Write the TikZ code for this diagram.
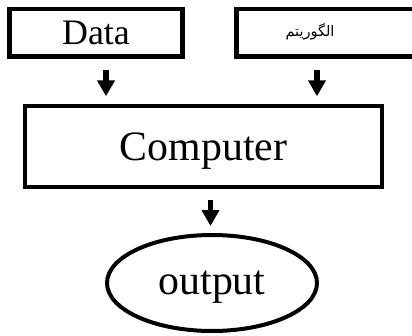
\documentclass[tikz,border=0pt]{standalone}
\usepackage{fontspec}
\setmainfont{Liberation Serif}
\newfontfamily\arabicfont[Script=Arabic]{DejaVu Sans}
\TeXXeTstate=1
\usetikzlibrary{arrows.meta,shapes.geometric}

\tikzset{
  topbox/.style={draw, line width=4.5bp, rectangle, inner sep=0pt, text depth=0pt},
  mainbox/.style={draw, line width=4bp, rectangle, inner sep=0pt, text depth=0pt},
  endbox/.style={draw, line width=4bp, ellipse, inner sep=0pt, text depth=0pt},
  flow/.style={line width=5.5bp, -{Triangle[length=16bp,width=17bp]}},
}

\begin{document}
\begin{tikzpicture}[x=1bp, y=-1bp]
  \useasboundingbox (0,0) rectangle (412,336);
  \clip (0,0) rectangle (412,336);

  % input boxes
  \node[topbox, minimum width=173bp, minimum height=47.5bp,
        font=\fontsize{36}{36}\selectfont] (data) at (96,32.75) {Data};
  \node[topbox, minimum width=200bp, minimum height=47.5bp] (alg) at (336.3,32.75) {};
  \node[font=\arabicfont\fontsize{14.5}{14.5}\selectfont, inner sep=0pt]
        (algtext) at (310,32) {\beginR الگوریتم\endR};

  % processing box
  \node[mainbox, minimum width=357bp, minimum height=80.5bp,
        font=\fontsize{42}{42}\selectfont] (comp) at (203.5,146.25) {Computer};

  % result
  \node[endbox, minimum width=210bp, minimum height=96bp,
        font=\fontsize{42}{42}\selectfont] (out) at (212,283) {output};

  % arrows
  \draw[flow] ([xshift=10bp,yshift=-11bp]data.south)
        -- ([xshift=10bp,yshift=7.7bp]data.south |- comp.north);
  \draw[flow] ([xshift=-19.3bp,yshift=-11bp]alg.south)
        -- ([xshift=-19.3bp,yshift=7.7bp]alg.south |- comp.north);
  \draw[flow] ([xshift=-1.5bp,yshift=-11bp]out.north |- comp.south)
        -- ([xshift=-1.5bp,yshift=7bp]out.north);
\end{tikzpicture}
\end{document}
